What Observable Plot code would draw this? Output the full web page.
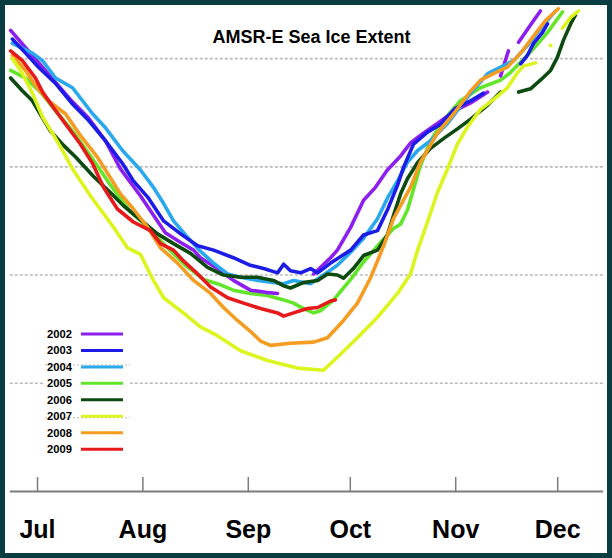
<!DOCTYPE html>
<html><head><meta charset="utf-8">
<script src="https://cdn.jsdelivr.net/npm/d3@7"></script>
<script src="https://cdn.jsdelivr.net/npm/@observablehq/plot@0.6"></script>
<style>
html,body{margin:0;padding:0;background:#0a3d42;}
#frame{position:relative;width:612px;height:558px;background:#0a3d42;overflow:hidden;}
#panel{position:absolute;left:5px;top:5px;width:602px;height:548px;background:#fff;overflow:hidden;}
#panel svg{display:block;}
#title{position:absolute;left:0;top:23px;width:613px;text-align:center;font:bold 18px/18px "Liberation Sans",Arial,sans-serif;color:#000;}
#legend{position:absolute;left:0;top:0;}
</style>
</head><body>
<div id="frame"><div id="panel"><div id="chart"></div><div id="title">AMSR-E Sea Ice Extent</div><svg id="legend" width="602" height="548"></svg></div></div>
<script>
// x: days since July 1; y: extent (million km²)
const years = ["2002","2003","2004","2005","2006","2007","2008","2009"];
const colors = ["#8c1ff0","#1c1ce6","#2aa8ee","#63e52a","#0d4a10","#dcf51e","#f59c22","#e61a1a"];
const monthTicks = [0, 31, 62, 92, 123, 153];
const monthLabels = ["Jul","Aug","Sep","Oct","Nov","Dec"];
const gridValues = [4, 5, 6, 7];

const y2002 = [[-7.9,7.26],[-3.5,7.10],[0.9,6.94],[5.3,6.78],[10.3,6.60],[15,6.45],[20,6.24],[24.4,5.98],[30.3,5.73],[37.6,5.39],[42.1,5.30],[45.9,5.23],[47.9,5.16],[52.9,5.06],[57.6,4.95],[62.6,4.86],[67.1,4.84],[70.6,4.83],[74,null],[81.2,5.01],[86.2,5.16],[88.2,5.23],[92.1,5.44],[95.9,5.69],[99.4,5.81],[102.9,5.97],[106.8,6.10],[109.7,6.22],[113.5,6.31],[117.6,6.40],[122.9,6.52],[127.4,6.59],[132.4,6.69],[134,null],[136.2,6.84],[138.5,7.07],[140,null],[141.5,7.15],[145,7.31],[147.9,7.44]];
const y2003 = [[-7.4,7.18],[-3.5,7.05],[0.3,6.92],[5.3,6.77],[10.3,6.58],[15,6.43],[20,6.24],[25,6.03],[28.2,5.87],[32.4,5.72],[37.1,5.50],[42.1,5.38],[47.1,5.27],[51.8,5.23],[57.6,5.16],[62.6,5.09],[66.5,5.06],[70.6,5.02],[72.4,5.10],[74.4,5.04],[77.4,5.02],[80.3,5.06],[82.4,5.02],[86.2,5.11],[92.1,5.23],[95.9,5.37],[100,5.41],[102.9,5.60],[105.9,5.83],[107.6,5.99],[110.6,6.21],[114.7,6.32],[118.5,6.39],[122.9,6.54],[127.4,6.61],[131.2,6.68],[136,null],[142.1,6.95],[144.1,7.03],[145.9,7.14],[148.5,7.24],[150,7.32]];
const y2004 = [[-7.4,7.14],[-1.5,7.05],[1.5,6.98],[5.3,6.82],[10.3,6.73],[16.2,6.49],[20,6.36],[25,6.15],[30.3,5.97],[34.1,5.81],[37.1,5.66],[40,5.50],[44.1,5.35],[47.9,5.22],[51.8,5.11],[55.9,5.01],[59.7,4.98],[64.7,4.95],[72.4,4.92],[75.3,4.95],[80.3,4.92],[84.1,5.00],[88.2,5.09],[92.1,5.21],[95.9,5.34],[100,5.52],[102.9,5.71],[105.9,5.87],[108.8,6.04],[111.8,6.15],[115.6,6.24],[120.6,6.40],[127.4,6.68],[132.4,6.86],[136.2,6.92],[140,6.98],[144.1,7.12],[148.8,7.31],[152.4,7.44]];
const y2005 = [[-7.9,6.89],[-3.5,6.82],[0.9,6.69],[5.3,6.52],[10.3,6.33],[15.6,6.10],[21.5,5.83],[27.4,5.58],[31.8,5.46],[37.6,5.27],[43.5,5.09],[48.8,4.96],[52.9,4.92],[57.6,4.86],[62.6,4.83],[67.6,4.81],[72.4,4.77],[75.3,4.74],[78.2,4.69],[81.2,4.65],[83.2,4.67],[87.1,4.77],[92.1,4.96],[95.9,5.12],[100.9,5.30],[104.7,5.43],[106.8,5.47],[108.8,5.60],[110.3,5.76],[112.6,6.01],[115.6,6.24],[119.4,6.43],[124.4,6.61],[130.3,6.73],[136.2,6.80],[139.1,6.87],[145,7.06],[150,7.24],[154.4,7.43]];
const y2006 = [[-7.9,6.82],[-4.4,6.70],[-1.5,6.61],[1.5,6.45],[3.8,6.33],[7.6,6.20],[11.2,6.09],[16.5,5.91],[21.5,5.76],[25.3,5.64],[30.3,5.51],[35.3,5.38],[40,5.29],[45,5.20],[50,5.07],[54.7,5.00],[59.7,4.98],[64.7,4.98],[69.4,4.95],[72.4,4.90],[74.4,4.88],[78.2,4.93],[82.4,4.95],[85.3,5.01],[88.2,5.00],[90,4.97],[92.9,5.06],[95.9,5.18],[100,5.23],[102.9,5.37],[104.7,5.55],[106.8,5.75],[108.8,5.89],[111.8,6.04],[115.6,6.17],[119.4,6.26],[123.5,6.35],[127.4,6.44],[132.4,6.57],[136.2,6.69],[139,null],[141.5,6.69],[145,6.72],[147.9,6.80],[150.9,6.89],[152.9,7.01],[154.7,7.17],[156.8,7.32],[158.2,7.40]];
const y2007 = [[-7.4,7.00],[-4.4,6.86],[-1.5,6.68],[1.5,6.46],[4.4,6.31],[7.4,6.15],[10.3,5.98],[15.6,5.73],[22.4,5.44],[26.5,5.25],[30.3,5.19],[34.1,4.95],[37.1,4.79],[42.9,4.65],[47.9,4.52],[52.9,4.44],[59.7,4.30],[67.6,4.21],[76.5,4.14],[84.1,4.12],[88.2,4.24],[94.1,4.42],[100,4.61],[105.9,4.83],[109.7,5.01],[111.8,5.23],[114.7,5.49],[117.6,5.76],[120.6,5.98],[123.5,6.21],[126.5,6.37],[130.3,6.53],[134.1,6.62],[138.2,6.73],[141.2,6.87],[142.9,6.93],[146.5,6.96],[150,null],[154.4,7.28],[156.8,7.38],[159.1,7.44]];
const y2007Isolated = [[150.9,7.12]];
const y2008 = [[-7.4,7.03],[-3.5,6.89],[-0.6,6.75],[3.2,6.61],[8.2,6.49],[12.6,6.29],[17.6,6.09],[20.6,5.94],[24.4,5.75],[28.2,5.61],[32.4,5.44],[36.2,5.25],[41.2,5.11],[45.9,4.95],[50.9,4.83],[54.7,4.70],[58.8,4.58],[62.6,4.48],[65.6,4.39],[68.5,4.35],[74.4,4.37],[81.2,4.38],[85.3,4.42],[90,4.58],[94.1,4.74],[97.9,4.97],[101.8,5.27],[104.7,5.52],[107.6,5.69],[109.7,5.81],[112.6,6.04],[117.6,6.31],[122.4,6.49],[127.4,6.70],[130.3,6.80],[134.1,6.86],[138.2,6.92],[142.1,7.05],[145,7.17],[149.4,7.35],[153.2,7.46]];
const y2009 = [[-7.9,7.07],[-4.4,6.98],[-0.6,6.82],[1.5,6.69],[5.3,6.52],[9.1,6.36],[12.6,6.21],[16.2,6.03],[19.4,5.81],[23.5,5.61],[28.2,5.49],[33.2,5.41],[36.2,5.29],[40,5.23],[42.9,5.13],[47.1,5.01],[50.9,4.89],[55.9,4.79],[60.6,4.74],[65.6,4.69],[70.6,4.65],[72.4,4.62],[75.3,4.65],[79.4,4.69],[82.4,4.70],[86.2,4.76],[87.6,4.77]];

const seriesData = {"2002":y2002,"2003":y2003,"2004":y2004,"2005":y2005,"2006":y2006,"2007":y2007,"2008":y2008,"2009":y2009};
const drawOrder = ["2005","2002","2004","2003","2006","2008","2009","2007"];
const colorOf = y => colors[years.indexOf(y)];

const chart = Plot.plot({
  width: 602, height: 548,
  marginLeft: 4.8, marginRight: 3.9, marginTop: 0, marginBottom: 62,
  x: {domain: [-8, 166.5]},
  y: {domain: [3, 7.49], axis: null},
  style: {background: "white", fontFamily: "'Liberation Sans', Arial, sans-serif", overflow: "visible"},
  marks: [
    Plot.ruleY(gridValues, {stroke: "#bababa", strokeWidth: 1.7, strokeDasharray: "3,2"}),
    ...drawOrder.map(yr => Plot.line(seriesData[yr], {
      x: d => d[0], y: d => d[1], stroke: colorOf(yr), strokeWidth: 3.6,
      strokeLinejoin: "round", strokeLinecap: "round"
    })),
    Plot.dot(y2007Isolated, {x: d => d[0], y: d => d[1], r: 2, fill: colorOf("2007"), stroke: null}),
    Plot.ruleY([3], {stroke: "#7c7c7c", strokeWidth: 2}),
    Plot.ruleX(monthTicks, {insetTop: 472, stroke: "#7c7c7c", strokeWidth: 1.5}),
    Plot.axisX(monthTicks, {
      tickSize: 0, tickPadding: 29,
      tickFormat: d => monthLabels[monthTicks.indexOf(d)],
      fontSize: 25, fontWeight: "bold", fill: "#000", label: null
    })
  ]
});
document.getElementById("chart").appendChild(chart);

// legend (panel coordinates)
const lg = d3.select("#legend");
lg.append("rect").attr("x", 40).attr("y", 320).attr("width", 85).attr("height", 134).attr("fill", "#fff");
years.forEach((yr, i) => {
  const cy = 329 + i * 16.45;
  if (yr === "2004" || yr === "2007") {
    lg.append("line").attr("x1", 40).attr("x2", 125)
      .attr("y1", cy + (yr === "2004" ? -2 : 1.5)).attr("y2", cy + (yr === "2004" ? -2 : 1.5))
      .attr("stroke", "#bdbdbd").attr("stroke-width", 1).attr("stroke-dasharray", "2,2");
  }
  lg.append("text").attr("x", 67).attr("y", cy + 4).attr("text-anchor", "end")
    .attr("font-family", "'Liberation Sans', Arial, sans-serif").attr("font-weight", "bold")
    .attr("font-size", 11.2).attr("fill", "#000").text(yr);
  lg.append("line").attr("x1", 76).attr("x2", 118).attr("y1", cy).attr("y2", cy)
    .attr("stroke", colors[i]).attr("stroke-width", 3);
});
</script>
</body></html>
